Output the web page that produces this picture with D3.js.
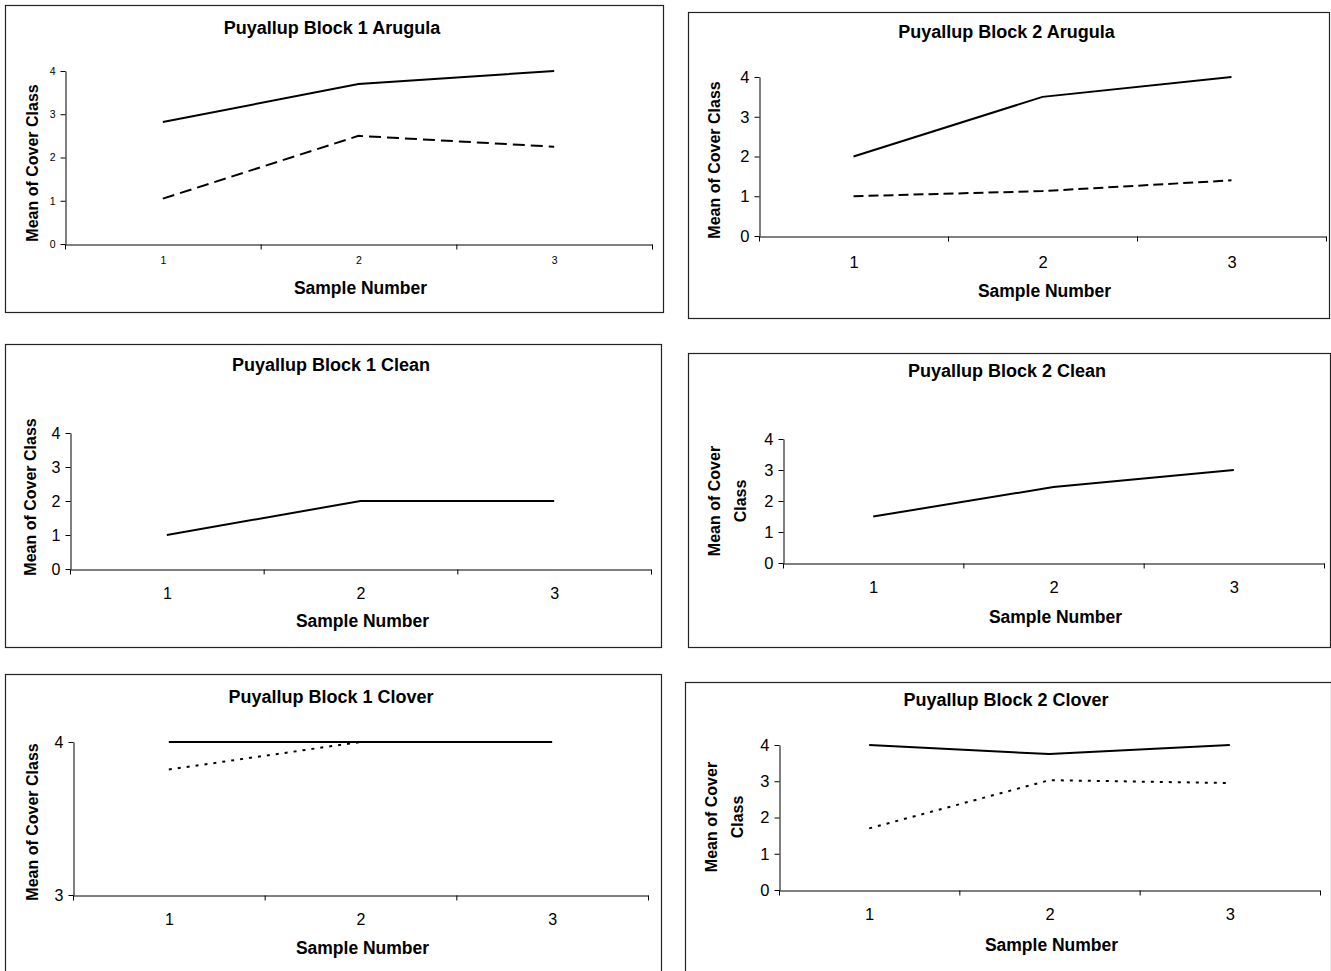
<!DOCTYPE html>
<html>
<head>
<meta charset="utf-8">
<script src="https://cdn.jsdelivr.net/npm/d3@7"></script>
<style>
  body { margin: 0; background: #fff; }
  text { font-family: "Liberation Sans", Arial, sans-serif; fill: #000; }
</style>
</head>
<body>
<div id="vis"></div>
<script>
// sample numbers on the x axis
let samples = [1, 2, 3];

// block 1 / block 2, series
let b1ArugulaSolid = [2.82, 3.7, 4.0];
let b1ArugulaDashed = [1.05, 2.5, 2.25];
let b2ArugulaSolid = [2.0, 3.5, 4.0];
let b2ArugulaDashed = [1.0, 1.13, 1.4];
let b1Clean = [1.0, 2.0, 2.0];
let b2Clean = [1.5, 2.45, 3.0];
let b1CloverSolid = [4.0, 4.0, 4.0];
let b1CloverDotted = [3.82, 4.0, 4.0];
let b2CloverSolid = [4.0, 3.75, 4.0];
let b2CloverDotted = [1.7, 3.03, 2.95];

let yTicks04 = [0, 1, 2, 3, 4];
let yTicks34 = [3, 4];

let titles = [
  'Puyallup Block 1 Arugula', 'Puyallup Block 2 Arugula',
  'Puyallup Block 1 Clean', 'Puyallup Block 2 Clean',
  'Puyallup Block 1 Clover', 'Puyallup Block 2 Clover'
];

// layout of each framed chart (frame box, plot box, text positions)
let panels = [
  { title: titles[0], frame: [5, 5, 663, 312], plot: [65, 652, 71, 244], yDom: [0, 4], yTicks: yTicks04,
    tickFont: 10.5, titleY: 28, tickY: 260, xTitleY: 288, yLabel: ['Mean of Cover Class'], yLabelX: 32, yLabelC: 163,
    series: [{ v: b1ArugulaSolid, dash: null }, { v: b1ArugulaDashed, dash: '12,6' }] },
  { title: titles[1], frame: [688, 12, 1329, 318], plot: [759, 1326, 77, 236], yDom: [0, 4], yTicks: yTicks04,
    tickFont: 16.5, titleY: 32, tickY: 262, xTitleY: 291, yLabel: ['Mean of Cover Class'], yLabelX: 714, yLabelC: 160,
    series: [{ v: b2ArugulaSolid, dash: null }, { v: b2ArugulaDashed, dash: '10,5' }] },
  { title: titles[2], frame: [5, 344, 661, 647], plot: [70, 651, 433, 569], yDom: [0, 4], yTicks: yTicks04,
    tickFont: 16, titleY: 365, tickY: 593, xTitleY: 621, yLabel: ['Mean of Cover Class'], yLabelX: 30, yLabelC: 497,
    series: [{ v: b1Clean, dash: null }] },
  { title: titles[3], frame: [688, 353, 1330, 647], plot: [783, 1324, 439, 563], yDom: [0, 4], yTicks: yTicks04,
    tickFont: 16.5, titleY: 371, tickY: 587, xTitleY: 617, yLabel: ['Mean of Cover', 'Class'], yLabelX: 714, yLabelC: 501,
    series: [{ v: b2Clean, dash: null }] },
  { title: titles[4], frame: [5, 674, 661, 975], plot: [73, 648, 742, 895], yDom: [3, 4], yTicks: yTicks34,
    tickFont: 16, titleY: 697, tickY: 919, xTitleY: 948, yLabel: ['Mean of Cover Class'], yLabelX: 32, yLabelC: 822,
    series: [{ v: b1CloverSolid, dash: null }, { v: b1CloverDotted, dash: '3,6' }] },
  { title: titles[5], frame: [685, 682, 1331, 975], plot: [779, 1320, 745, 890], yDom: [0, 4], yTicks: yTicks04,
    tickFont: 16.5, titleY: 700, tickY: 914, xTitleY: 945, yLabel: ['Mean of Cover', 'Class'], yLabelX: 711, yLabelC: 817,
    series: [{ v: b2CloverSolid, dash: null }, { v: b2CloverDotted, dash: '3,6' }] }
];

let svg = d3.select('#vis')
  .append('svg')
  .attr('width', 1331)
  .attr('height', 971)
  .style('display', 'block');

panels.forEach(function(p) {
  let g = svg.append('g');
  let [fx0, fy0, fx1, fy1] = p.frame;
  let [px0, px1, py0, py1] = p.plot;

  // frame
  g.append('rect')
    .attr('x', fx0 + 0.5).attr('y', fy0 + 0.5)
    .attr('width', fx1 - fx0).attr('height', fy1 - fy0)
    .attr('fill', 'none').attr('stroke', '#222').attr('stroke-width', 1.2);

  // category axis: boundaries at half steps
  let x = d3.scaleLinear().domain([0.5, 3.5]).range([px0, px1]);
  let y = d3.scaleLinear().domain(p.yDom).range([py1, py0]);

  // x axis with tick marks between categories
  g.append('g')
    .attr('transform', 'translate(0,' + (py1 + 0.5) + ')')
    .call(d3.axisBottom(x).tickValues([0.5, 1.5, 2.5, 3.5]).tickSize(5).tickSizeOuter(0).tickFormat(''))
    .call(a => a.selectAll('line, path').attr('stroke', '#000'));

  // x tick labels
  g.append('g')
    .attr('transform', 'translate(0,' + p.tickY + ')')
    .call(d3.axisBottom(x).tickValues(samples).tickSize(0).tickFormat(d3.format('d')))
    .call(a => a.select('.domain').remove())
    .call(a => a.selectAll('text')
      .attr('y', 0).attr('dy', '0.35em')
      .style('font-size', p.tickFont + 'px')
      .style('font-family', '"Liberation Sans", Arial, sans-serif'));

  // y axis
  g.append('g')
    .attr('transform', 'translate(' + (px0 + 0.5) + ',0)')
    .call(d3.axisLeft(y).tickValues(p.yTicks).tickSize(5).tickSizeOuter(0).tickFormat(d3.format('d')).tickPadding(5))
    .call(a => a.selectAll('line, path').attr('stroke', '#000'))
    .call(a => a.selectAll('text')
      .style('font-size', p.tickFont + 'px')
      .style('font-family', '"Liberation Sans", Arial, sans-serif'));

  // series lines
  let line = d3.line()
    .x((d, i) => x(samples[i]))
    .y(d => y(d));

  p.series.forEach(function(s) {
    g.append('path')
      .datum(s.v)
      .attr('d', line)
      .attr('fill', 'none')
      .attr('stroke', '#000')
      .attr('stroke-width', 2)
      .attr('stroke-dasharray', s.dash);
  });

  // title
  g.append('text')
    .attr('x', (fx0 + fx1) / 2 - 2)
    .attr('y', p.titleY)
    .attr('dy', '0.35em')
    .attr('text-anchor', 'middle')
    .style('font-size', '18px')
    .style('font-weight', 'bold')
    .text(p.title);

  // x axis title
  g.append('text')
    .attr('x', (px0 + px1) / 2 + 2)
    .attr('y', p.xTitleY)
    .attr('dy', '0.35em')
    .attr('text-anchor', 'middle')
    .style('font-size', '17.5px')
    .style('font-weight', 'bold')
    .text('Sample Number');

  // y axis title, one or two lines
  p.yLabel.forEach(function(t, i) {
    g.append('text')
      .attr('transform', 'translate(' + (p.yLabelX + i * 26) + ',' + p.yLabelC + ') rotate(-90)')
      .attr('dy', '0.35em')
      .attr('text-anchor', 'middle')
      .style('font-size', '16px')
      .style('font-weight', 'bold')
      .text(t);
  });
});
</script>
</body>
</html>
